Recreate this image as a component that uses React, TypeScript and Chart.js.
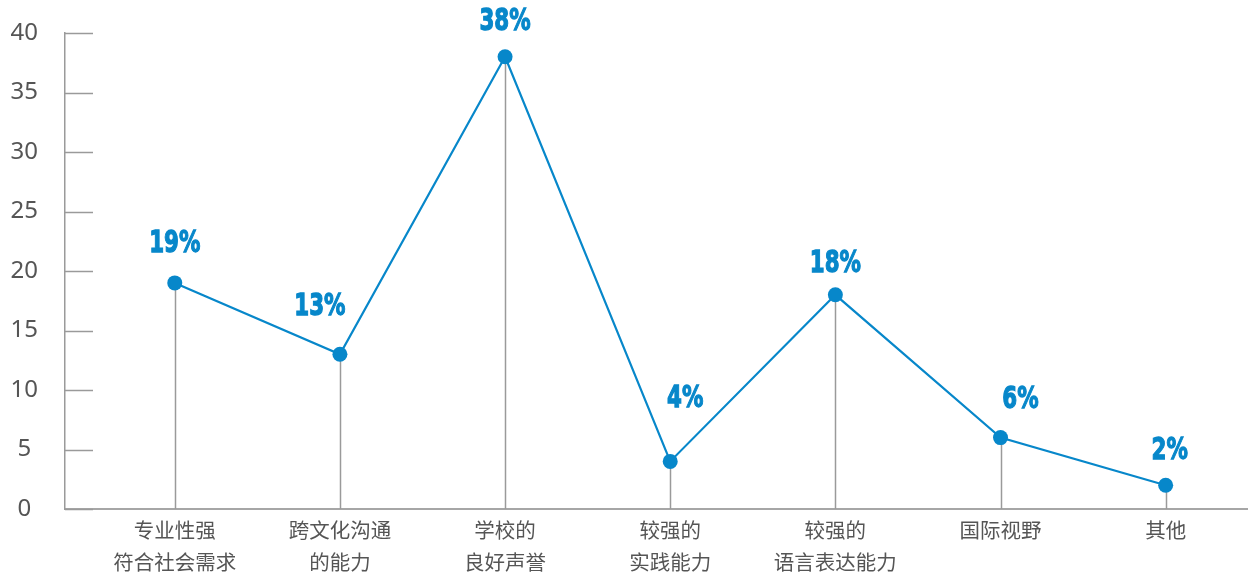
import React, { useEffect, useRef } from "react";
import { Chart, registerables } from "chart.js";

Chart.register(...registerables);

const categories: string[][] = [
  ["专业性强", "符合社会需求"],
  ["跨文化沟通", "的能力"],
  ["学校的", "良好声誉"],
  ["较强的", "实践能力"],
  ["较强的", "语言表达能力"],
  ["国际视野"],
  ["其他"],
];
const values: number[] = [19, 13, 38, 4, 18, 6, 2];
const valueLabels: string[] = ["19%", "13%", "38%", "4%", "18%", "6%", "2%"];
const yTicks: number[] = [0, 5, 10, 15, 20, 25, 30, 35, 40];
// label offsets relative to the point (style only)
const labelOffsets: [number, number][] = [
  [0, -39],
  [-20, -47],
  [0, -35],
  [15, -62],
  [0, -31],
  [20, -38],
  [4, -34],
];

const BLUE = "#0787CA";
const GRAY = "#9a9a9a";
const TEXT = "#555555";

export default function App() {
  const ref = useRef<HTMLCanvasElement | null>(null);
  useEffect(() => {
    if (!ref.current) return;
    const dropLines = {
      id: "dropLines",
      beforeDatasetsDraw(chart: any) {
        const meta = chart.getDatasetMeta(0);
        const ys = chart.scales.y;
        const ctx = chart.ctx;
        ctx.save();
        ctx.strokeStyle = GRAY;
        ctx.lineWidth = 1.5;
        meta.data.forEach((p: any) => {
          ctx.beginPath();
          ctx.moveTo(Math.round(p.x) + 0.5, p.y);
          ctx.lineTo(Math.round(p.x) + 0.5, ys.getPixelForValue(0));
          ctx.stroke();
        });
        const left = chart.chartArea.left;
        ys.ticks.forEach((t: any) => {
          const y = Math.round(ys.getPixelForValue(t.value)) + 0.5;
          ctx.beginPath();
          ctx.moveTo(left, y);
          ctx.lineTo(left + 28, y);
          ctx.stroke();
        });
        ctx.restore();
      },
      afterDatasetsDraw(chart: any) {
        const meta = chart.getDatasetMeta(0);
        const ctx = chart.ctx;
        ctx.save();
        ctx.font = 'bold 31px "DejaVu Sans", sans-serif';
        ctx.fillStyle = BLUE;
        ctx.strokeStyle = BLUE;
        ctx.lineWidth = 1.3;
        ctx.textAlign = "center";
        ctx.textBaseline = "middle";
        meta.data.forEach((p: any, i: number) => {
          const [dx, dy] = labelOffsets[i];
          ctx.save();
          ctx.translate(p.x + dx, p.y + dy);
          ctx.scale(0.69, 1);
          ctx.strokeText(valueLabels[i], 0, 0);
          ctx.fillText(valueLabels[i], 0, 0);
          ctx.restore();
        });
        ctx.restore();
      },
    };
    const chart = new Chart(ref.current, {
      type: "line",
      data: {
        datasets: [
          {
            data: values.map((v, i) => ({ x: i, y: v })),
            borderColor: BLUE,
            backgroundColor: BLUE,
            borderWidth: 2.2,
            pointRadius: 7.5,
            pointBorderWidth: 0,
            pointBackgroundColor: BLUE,
            tension: 0,
            clip: false as any,
          },
        ],
      },
      options: {
        animation: false,
        responsive: true,
        maintainAspectRatio: false,
        layout: { padding: { top: 33, right: 5, left: 0, bottom: 0 } },
        plugins: { legend: { display: false }, tooltip: { enabled: false } },
        scales: {
          x: {
            type: "linear",
            min: -0.6647,
            max: 6.4955,
            grid: { display: false, drawTicks: false },
            border: { display: true, color: "#a6a6a6", width: 2 },
            afterFit: (s: any) => {
              s.height = 68;
              s.paddingLeft = 0;
              s.paddingRight = 0;
            },
            afterBuildTicks: (s: any) => {
              s.ticks = categories.map((_, i) => ({ value: i }));
            },
            ticks: {
              autoSkip: false,
              maxRotation: 0,
              padding: 6,
              color: TEXT,
              font: { family: '"Noto Sans CJK SC", "Noto Sans", sans-serif', size: 20.5, lineHeight: 1.52 },
              callback: (v: any) => categories[v as number] as any,
            },
          },
          y: {
            min: 0,
            max: 40,
            grid: { display: false, drawTicks: false },
            border: { display: true, color: GRAY, width: 1.5 },
            afterFit: (s: any) => {
              s.width = 65;
              s.paddingTop = 0;
              s.paddingBottom = 0;
            },
            afterBuildTicks: (s: any) => {
              s.ticks = yTicks.map((v) => ({ value: v }));
            },
            ticks: {
              crossAlign: "center",
              padding: 27,
              color: TEXT,
              font: { family: '"Noto Sans", sans-serif', size: 24 },
            },
          },
        },
      },
      plugins: [dropLines],
    });
    return () => chart.destroy();
  }, []);
  return (
    <div style={{ position: "fixed", left: 0, top: 0, width: 1255, height: 577, background: "#fff" }}>
      <canvas ref={ref} />
    </div>
  );
}
